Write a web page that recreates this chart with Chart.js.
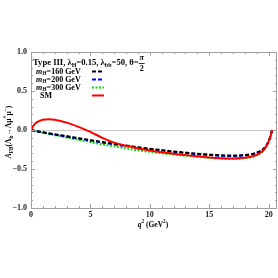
<!DOCTYPE html>
<html>
<head>
<meta charset="utf-8">
<script src="https://cdn.jsdelivr.net/npm/chart.js@4.4.1/dist/chart.umd.min.js"></script>
<style>
  html, body { margin: 0; padding: 0; background: #fff; }
  #wrap { width: 278px; height: 278px; }
</style>
</head>
<body>
<div id="wrap"><canvas id="myChart" width="278" height="278"></canvas></div>
<script>
'use strict'

// q^2 sample points (GeV^2)
var q2 = [0, 0.25, 0.5, 1, 1.5, 2, 3, 4, 5, 6, 7, 8, 9, 10, 11, 12, 13, 14, 15, 16, 17, 18, 18.5, 19, 19.5, 19.8, 20, 20.15, 20.28];

var mH160 = [0, -0.008, -0.015, -0.03, -0.043, -0.055, -0.08, -0.105, -0.13, -0.155, -0.178, -0.2, -0.22, -0.24, -0.258, -0.275, -0.29, -0.305, -0.315, -0.325, -0.328, -0.32, -0.31, -0.29, -0.25, -0.2, -0.14, -0.08, 0];
var mH200 = [0, -0.008, -0.016, -0.031, -0.045, -0.058, -0.084, -0.11, -0.135, -0.16, -0.184, -0.206, -0.227, -0.246, -0.264, -0.281, -0.296, -0.31, -0.321, -0.331, -0.334, -0.326, -0.316, -0.294, -0.253, -0.202, -0.141, -0.08, 0];
var mH300 = [0, -0.009, -0.018, -0.035, -0.051, -0.066, -0.097, -0.127, -0.155, -0.185, -0.21, -0.235, -0.26, -0.28, -0.298, -0.315, -0.33, -0.345, -0.357, -0.366, -0.37, -0.362, -0.35, -0.322, -0.272, -0.213, -0.147, -0.082, 0];
var sm = [0, 0.065, 0.1, 0.132, 0.139, 0.132, 0.095, 0.04, -0.025, -0.1, -0.162, -0.203, -0.236, -0.262, -0.285, -0.305, -0.322, -0.338, -0.352, -0.362, -0.365, -0.355, -0.342, -0.318, -0.27, -0.212, -0.146, -0.082, 0];

var xTicks = [0, 1, 2, 3, 4, 5, 6, 7, 8, 9, 10, 11, 12, 13, 14, 15, 16, 17, 18, 19, 20];
var yTicks = [-1, -0.9, -0.8, -0.7, -0.6, -0.5, -0.4, -0.3, -0.2, -0.1, 0, 0.1, 0.2, 0.3, 0.4, 0.5, 0.6, 0.7, 0.8, 0.9, 1];

var serif = '"Liberation Serif", "DejaVu Serif", serif';

function pts(ys) {
    return q2.map(function (x, i) { return { x: x, y: ys[i] }; });
}

function isMajor(v, step) {
    return Math.abs(v / step - Math.round(v / step)) < 1e-6;
}

function fmtY(v) {
    var s = Math.abs(v).toFixed(1);
    return v < 0 ? '\u2212' + s : s;
}

// draws text pieces: [text, mode] where mode = '' normal, 'i' italic, 'sub', 'sup', 'isub'
function drawPieces(ctx, pieces, x, y, size) {
    pieces.forEach(function (p) {
        var txt = p[0], mode = p[1] || '';
        var fs = size, dy = 0, style = 'bold ';
        if (mode.indexOf('sub') >= 0) { fs = size * 0.7; dy = size * 0.3; }
        if (mode.indexOf('sup') >= 0) { fs = size * 0.7; dy = -size * 0.4; }
        if (mode.indexOf('i') === 0) style = 'italic bold ';
        ctx.font = style + fs + 'px ' + serif;
        ctx.fillText(txt, x, y + dy);
        x += ctx.measureText(txt).width;
    });
    return x;
}

var framePlugin = {
    id: 'frame',
    afterDraw: function (chart) {
        var ctx = chart.ctx;
        var a = chart.chartArea;
        var xs = chart.scales.x, ys = chart.scales.y;
        ctx.save();
        ctx.strokeStyle = '#a0a0a0';
        ctx.lineWidth = 1;
        ctx.strokeRect(a.left + 0.5, a.top + 0.5, a.right - a.left - 1, a.bottom - a.top);
        ctx.beginPath();
        xTicks.forEach(function (v) {
            var px = Math.round(xs.getPixelForValue(v)) + 0.5;
            var len = isMajor(v, 5) ? 4 : 2;
            ctx.moveTo(px, a.bottom); ctx.lineTo(px, a.bottom - len);
            ctx.moveTo(px, a.top); ctx.lineTo(px, a.top + len);
        });
        yTicks.forEach(function (v) {
            var py = Math.round(ys.getPixelForValue(v)) + 0.5;
            var len = isMajor(v, 0.5) ? 4 : 2;
            ctx.moveTo(a.left, py); ctx.lineTo(a.left + len, py);
            ctx.moveTo(a.right, py); ctx.lineTo(a.right - len, py);
        });
        ctx.stroke();

        // legend
        ctx.fillStyle = '#000';
        ctx.textBaseline = 'middle';
        ctx.textAlign = 'left';
        var fs = 8;
        var end = drawPieces(ctx, [['Type III, \u03bb'], ['H', 'sub'], ['=0.15, \u03bb'], ['bb', 'sub'], ['=50, \u03b8=']], 33, 63, 8.6);
        ctx.font = 'italic bold ' + fs + 'px ' + serif;
        ctx.textAlign = 'center';
        ctx.fillText('\u03c0', end + 3, 58);
        ctx.font = 'bold ' + fs + 'px ' + serif;
        ctx.fillText('2', end + 3, 69);
        ctx.fillRect(end, 63, 6, 0.8);
        ctx.textAlign = 'left';

        var rows = [
            { y: 71.5, lab: [['m', 'i'], ['H', 'isub'], ['=160 GeV']], color: '#000', dash: [4, 2] },
            { y: 79.5, lab: [['m', 'i'], ['H', 'isub'], ['=200 GeV']], color: '#0000ff', dash: [4, 2] },
            { y: 87.5, lab: [['m', 'i'], ['H', 'isub'], ['=300 GeV']], color: '#00e000', dash: [2, 1.5] },
            { y: 95.5, lab: [['SM']], color: '#ff0000', dash: [] }
        ];
        rows.forEach(function (r, i) {
            ctx.fillStyle = '#000';
            drawPieces(ctx, r.lab, i === 3 ? 40 : 36, r.y, fs);
            ctx.strokeStyle = r.color;
            ctx.lineWidth = 2;
            ctx.setLineDash(r.dash);
            ctx.beginPath();
            ctx.moveTo(92, r.y); ctx.lineTo(104, r.y);
            ctx.stroke();
            ctx.setLineDash([]);
        });

        // y axis title
        ctx.translate(9, 132);
        ctx.rotate(-Math.PI / 2);
        ctx.fillStyle = '#000';
        var parts = [['A', 'i'], ['FB', 'sub'], ['(\u039b'], ['b', 'sub'], ['\u2192\u039b\u03bc'], ['+', 'sup'], ['\u03bc'], ['\u2212', 'sup'], [')']];
        var w = drawPieces(ctx, parts, 0, -1000, 7.5);
        drawPieces(ctx, parts, -w / 2, 0, 7.5);
        ctx.restore();

        // x axis title
        ctx.save();
        ctx.fillStyle = '#000';
        ctx.textBaseline = 'middle';
        var xp = [['q', 'i'], ['2', 'sup'], [' (GeV'], ['2', 'sup'], [')']];
        var wx = drawPieces(ctx, xp, 0, -1000, 7.5);
        drawPieces(ctx, xp, 153 - wx / 2, 225, 7.5);
        ctx.restore();
    }
};

var ctx = document.getElementById('myChart').getContext('2d');

var myChart = new Chart(ctx, {
    type: 'line',
    data: {
        datasets: [
            { label: 'SM', data: pts(sm), borderColor: '#ff0000', borderWidth: 2, order: 0 },
            { label: 'mH=160 GeV', data: pts(mH160), borderColor: '#000000', borderWidth: 2, borderDash: [4, 2], order: 1 },
            { label: 'mH=200 GeV', data: pts(mH200), borderColor: '#0000ff', borderWidth: 2, borderDash: [4, 2], order: 2 },
            { label: 'mH=300 GeV', data: pts(mH300), borderColor: '#00e000', borderWidth: 2, borderDash: [2, 1.5], order: 3 }
        ]
    },
    options: {
        responsive: false,
        animation: false,
        devicePixelRatio: 1,
        elements: {
            point: { radius: 0 },
            line: { cubicInterpolationMode: 'monotone', fill: false }
        },
        layout: { padding: { top: 52, right: 1, left: 0, bottom: 0 } },
        plugins: { legend: { display: false }, tooltip: { enabled: false } },
        scales: {
            x: {
                type: 'linear',
                min: 0,
                max: 20.7,
                afterFit: function (s) { s.height = 70; },
                afterBuildTicks: function (s) { s.ticks = xTicks.map(function (v) { return { value: v }; }); },
                grid: { display: false, drawTicks: false },
                border: { display: false },
                ticks: {
                    autoSkip: false,
                    maxRotation: 0,
                    padding: 2,
                    color: '#222',
                    font: { family: serif, size: 8, weight: 'bold' },
                    callback: function (v) { return isMajor(v, 5) ? String(Math.round(v)) : ''; }
                }
            },
            y: {
                min: -1,
                max: 1,
                afterFit: function (s) { s.width = 31; },
                afterBuildTicks: function (s) { s.ticks = yTicks.map(function (v) { return { value: v }; }); },
                grid: {
                    drawTicks: false,
                    color: function (c) { return (c.tick && Math.abs(c.tick.value) < 1e-6) ? '#c8c8c8' : 'rgba(0,0,0,0)'; }
                },
                border: { display: false },
                ticks: {
                    autoSkip: false,
                    padding: 4,
                    color: '#222',
                    font: { family: serif, size: 8, weight: 'bold' },
                    callback: function (v) { return isMajor(v, 0.5) ? fmtY(v) : ''; }
                }
            }
        }
    },
    plugins: [framePlugin]
});
</script>
</body>
</html>
